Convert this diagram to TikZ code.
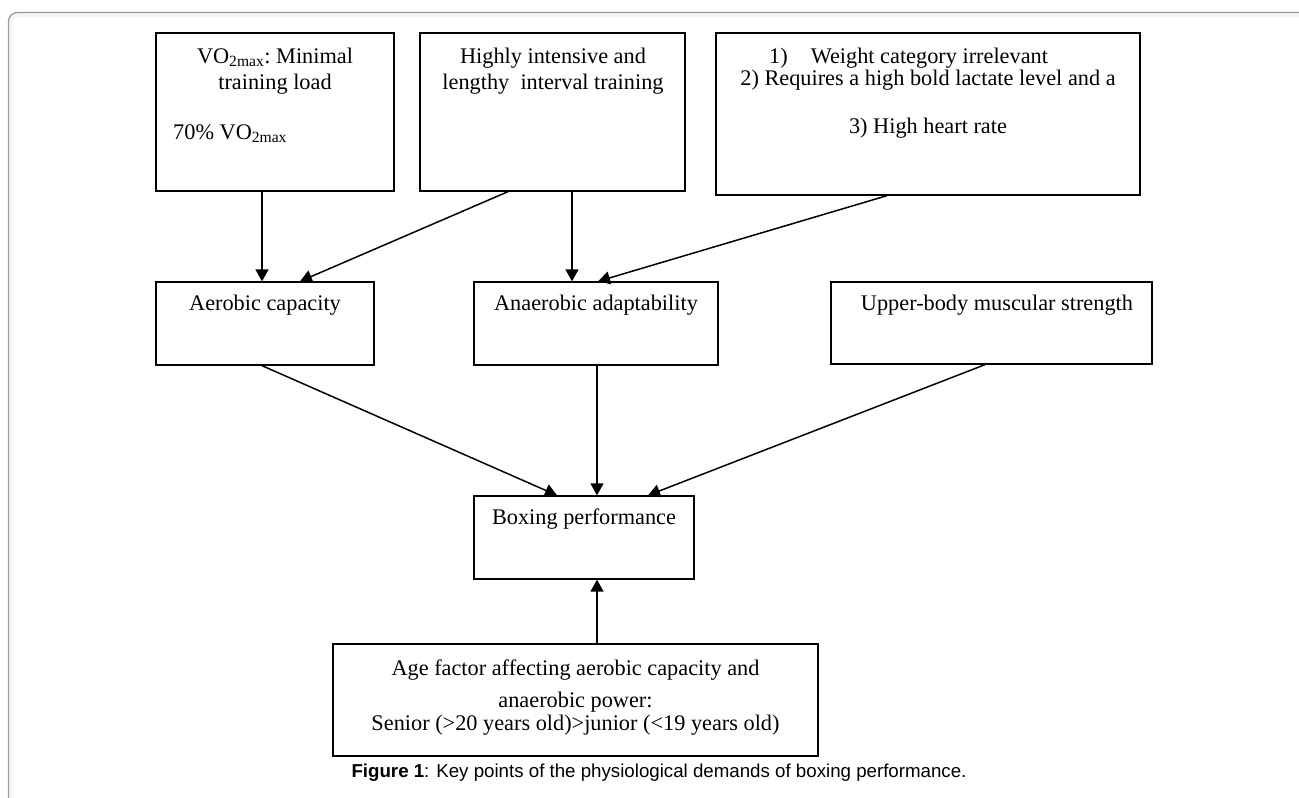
\documentclass[tikz,border=0pt]{standalone}
\usepackage{fontspec}
\setmainfont{Liberation Serif}
\newfontfamily\capfont{Liberation Sans}
\usetikzlibrary{arrows.meta}

\definecolor{framegray}{RGB}{152,152,152}
\definecolor{shadegray}{RGB}{243,243,243}

\tikzset{
    box/.style={draw, line width=1.3pt, inner sep=0pt},
    txt/.style={anchor=base, inner sep=0pt, font=\fontsize{22.3}{26}\selectfont},
    arr/.style={line width=1.5pt, -{Triangle[length=12pt, width=13pt]}},
}

\begin{document}
\begin{tikzpicture}[x=1pt, y=-1pt]

    \useasboundingbox (0,0) rectangle (1299,798);

    % 1. Рамка страницы
    \draw[shadegray, line width=3pt, rounded corners=8pt] (11,798) -- (11,15) -- (1299,15);
    \draw[framegray, line width=1.3pt, rounded corners=9pt] (8.5,798) -- (8.5,12.5) -- (1299,12.5);

    % 2. Верхний ряд
    \node[box, minimum width=238pt, minimum height=158pt] (vo2) at (275,112) {};
    \node[box, minimum width=265pt, minimum height=158pt] (itv) at (552.5,112) {};
    \node[box, minimum width=424pt, minimum height=162pt] (lac) at (928,114) {};

    \node[txt] (vo2a) at (275,63) {VO\textsubscript{2max}:\ Minimal};
    \node[txt] (vo2b) at (275,89) {training load};
    \node[txt, anchor=base west] (vo2c) at (173,139) {70\% VO\textsubscript{2max}};

    \node[txt] (itva) at (553,63) {Highly intensive and};
    \node[txt] (itvb) at (553,89) {lengthy\ \ interval training};

    \node[txt, anchor=base west] (laca) at (769,63) {1)\hspace{23pt}Weight category irrelevant};
    \node[txt] (lacb) at (928,85) {2) Requires a high bold lactate level and a};
    \node[txt] (lacc) at (928,133) {3) High heart rate};

    % 3. Средний ряд
    \node[box, minimum width=218pt, minimum height=83pt] (aer) at (265,323.5) {};
    \node[box, minimum width=244pt, minimum height=83pt] (ana) at (596,323.5) {};
    \node[box, minimum width=321pt, minimum height=82pt] (ubs) at (991.5,323) {};

    \node[txt] (aert) at (265,310) {Aerobic capacity};
    \node[txt] (anat) at (596,310) {Anaerobic adaptability};
    \node[txt] (ubst) at (997,310) {Upper-body muscular strength};

    % 4. Итог и возраст
    \node[box, minimum width=220pt, minimum height=83pt] (perf) at (584,537.5) {};
    \node[txt] (perft) at (584,524) {Boxing performance};

    \node[box, minimum width=485pt, minimum height=112pt] (age) at (575.5,700) {};
    \node[txt] (agea) at (575.5,675) {Age factor affecting aerobic capacity and};
    \node[txt] (ageb) at (575.5,707) {anaerobic power:};
    \node[txt] (agec) at (575.5,730) {Senior (>20 years old)>junior (<19 years old)};

    % 5. Стрелки
    \draw[arr] ([xshift=-13pt]vo2.south) -- ([xshift=-3pt]aer.north);
    \draw[arr] ([xshift=-44.5pt]itv.south) -- ([xshift=35pt]aer.north);
    \draw[arr] ([xshift=19.5pt]itv.south) -- ([xshift=-24pt]ana.north);
    \draw[arr] ([xshift=-41pt]lac.south) -- ([xshift=2pt]ana.north);

    \draw[arr] ([xshift=-3pt]aer.south) -- ([xshift=-27pt]perf.north);
    \draw[arr] ([xshift=1pt]ana.south) -- ([xshift=13pt]perf.north);
    \draw[arr] ([xshift=-6.5pt]ubs.south) -- ([xshift=64pt]perf.north);
    \draw[arr] ([xshift=21.5pt]age.north) -- ([xshift=13pt]perf.south);

    % 6. Подпись
    \node[anchor=base, inner sep=0pt, font=\capfont\fontsize{18.7}{22}\selectfont] (cap) at (659,777)
        {\textbf{Figure 1}: Key points of the physiological demands of boxing performance.};

\end{tikzpicture}
\end{document}
